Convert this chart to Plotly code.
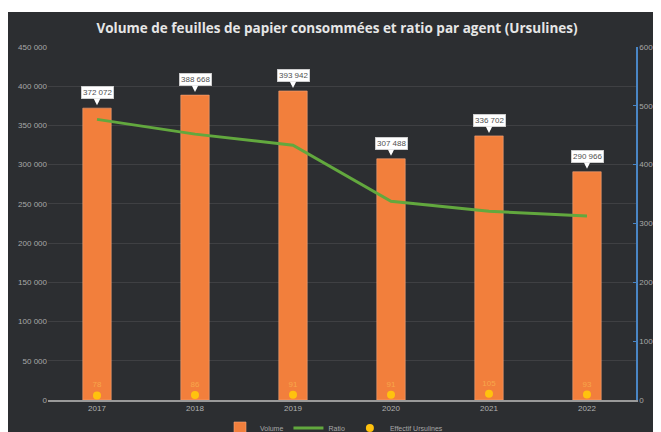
import plotly.graph_objects as go
import base64

years = [2017, 2018, 2019, 2020, 2021, 2022]
year_labels = ["2017", "2018", "2019", "2020", "2021", "2022"]
volume = [372072, 388668, 393942, 307488, 336702, 290966]
volume_labels = ["372 072", "388 668", "393 942", "307 488", "336 702", "290 966"]
ratio = [4770, 4519, 4329, 3379, 3207, 3129]
effectif = [78, 86, 91, 91, 105, 93]

left_ticks = [0, 50000, 100000, 150000, 200000, 250000, 300000, 350000, 400000, 450000]
left_ticktext = ["0", "50 000", "100 000", "150 000", "200 000", "250 000",
                 "300 000", "350 000", "400 000", "450 000"]
right_ticks = [0, 1000, 2000, 3000, 4000, 5000, 6000]

# figure is placed 8px in from the page corner; work in figure pixels
W, H = 653, 424
L, R, T, B = 40, 25, 39, 32
PW, PH = W - L - R, H - T - B


def px(fx):
    return (fx - L) / PW


def py(fy):
    return (H - B - fy) / PH


svg = ('<svg xmlns="http://www.w3.org/2000/svg" width="653" height="420" viewBox="0 0 653 420" preserveAspectRatio="none">'
       '<defs><radialGradient id="g" cx="50%" cy="40%" r="70%">'
       '<stop offset="0" stop-color="#3c3e41"/><stop offset="1" stop-color="#232527"/>'
       '</radialGradient></defs><rect width="653" height="420" fill="url(#g)"/></svg>')
bg_src = "data:image/svg+xml;base64," + base64.b64encode(svg.encode()).decode()

fig = go.Figure()
fig.add_trace(go.Bar(
    x=years, y=volume, name="Volume",
    marker=dict(color="#F27F3C", line=dict(color="#F6A57A", width=0.6)),
    width=0.29, yaxis="y",
))
fig.add_trace(go.Scatter(
    x=years, y=ratio, name="Ratio", mode="lines",
    line=dict(color="#62A83E", width=3), yaxis="y2",
))
fig.add_trace(go.Scatter(
    x=years, y=effectif, name="Effectif Ursulines", mode="markers+text",
    marker=dict(color="#FFC20E", size=8),
    text=[str(v) for v in effectif], textposition="top center",
    textfont=dict(color="#F7A64A", size=8, family="Liberation Sans"),
    yaxis="y2",
))

for yr, v, lab in zip(years, volume, volume_labels):
    fig.add_annotation(
        x=yr, y=v, xref="x", yref="y", text="",
        showarrow=True, arrowhead=2, arrowsize=0.9, arrowwidth=2.5,
        arrowcolor="#ffffff", ax=0, ay=-9, standoff=3,
    )
    fig.add_annotation(
        x=yr, y=v, xref="x", yref="y", text=lab, showarrow=False,
        yanchor="bottom", yshift=9,
        bgcolor="#ffffff", bordercolor="#d0d0d0", borderwidth=0.5, borderpad=1.5,
        font=dict(color="#505050", size=8, family="Liberation Sans"),
    )

fig.add_shape(type="rect", xref="paper", yref="paper",
              x0=px(0), x1=px(W), y0=py(H), y1=py(4),
              fillcolor="#2c2e31", line=dict(width=0), layer="below")
fig.add_layout_image(dict(source=bg_src, xref="paper", yref="paper",
                          x=px(0), y=py(4), sizex=W / PW, sizey=(H - 4) / PH,
                          sizing="stretch", layer="below", xanchor="left", yanchor="top"))

fig.update_layout(
    width=W, height=H,
    margin=dict(l=L, r=R, t=T, b=B, autoexpand=False),
    paper_bgcolor="#ffffff", plot_bgcolor="rgba(0,0,0,0)",
    title=dict(text="Volume de feuilles de papier consommées et ratio par agent (Ursulines)",
               xref="container", x=329 / W, xanchor="center", y=1 - 20 / H, yanchor="middle",
               font=dict(family="Open Sans", size=13.5, color="#e6e6e6", weight="bold")),
    showlegend=True,
    legend=dict(orientation="h", x=px(326), xanchor="center", y=py(420), yanchor="middle",
                font=dict(color="#a8a8a8", size=7, family="Liberation Sans"),
                bgcolor="rgba(0,0,0,0)", itemwidth=30),
    xaxis=dict(range=[2016.5, 2022.5], tickvals=years, ticktext=year_labels,
               showline=True, linecolor="#9a9a9a", linewidth=1.5,
               tickfont=dict(color="#b0b0b0", size=8, family="Liberation Sans"),
               showgrid=False, zeroline=False, ticks=""),
    yaxis=dict(range=[0, 450000], tickvals=left_ticks, ticktext=left_ticktext,
               gridcolor="rgba(255,255,255,0.09)", gridwidth=1, zeroline=False,
               tickfont=dict(color="#a8a8a8", size=8, family="Liberation Sans"),
               showline=False),
    yaxis2=dict(range=[0, 6000], tickvals=right_ticks, overlaying="y", side="right",
                showgrid=False, zeroline=False, showline=True, linecolor="#4A86C5", linewidth=1.5,
                ticks="inside", ticklen=3, tickcolor="#4A86C5",
                tickfont=dict(color="#a8a8a8", size=8, family="Liberation Sans")),
)

fig.write_html("out.html")
